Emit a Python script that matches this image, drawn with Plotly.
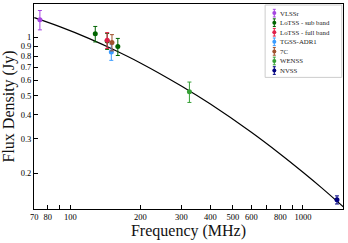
import plotly.graph_objects as go
import numpy as np

# Survey measurements
surveys = ["VLSSr", "LoTSS - sub band", "LoTSS - full band", "TGSS-ADR1", "7C", "WENSS", "NVSS"]
colors = ["#a545e0", "#006400", "#e0204a", "#3a9cff", "#a0522d", "#35a035", "#000080"]
freqs = [[74], [128, 144, 160], [144], [150], [151], [325], [1400]]
fluxes = [[1.23], [1.04, 0.955, 0.895], [0.965], [0.84], [0.94], [0.525], [0.146]]
errors = [[0.14], [0.095, 0.09, 0.09], [0.09], [0.08], [0.09], [0.063], [0.007]]

# Fitted spectral model curve
curve_freq = [70, 90, 120, 150, 200, 300, 400, 600, 800, 1000, 1200, 1490]
curve_flux = [1.259, 1.132, 0.986, 0.874, 0.737, 0.561, 0.453, 0.3245, 0.2504, 0.2023, 0.1687, 0.1345]

x_tickvals = [70, 80, 90, 100, 200, 300, 400, 500, 600, 700, 800, 900, 1000]
x_ticktext = ["70", "80", "", "100", "200", "300", "400", "500", "600", "", "800", "", "1000"]
y_tickvals = [0.2, 0.3, 0.4, 0.5, 0.6, 0.7, 0.8, 0.9, 1.0]
y_ticktext = ["0.2", "0.3", "0.4", "0.5", "0.6", "0.7", "0.8", "0.9", "1"]

FONT = "Liberation Serif, Times New Roman, serif"

fig = go.Figure()

fig.add_trace(go.Scatter(x=curve_freq, y=curve_flux, mode="lines",
                         line=dict(color="black", width=1.2, shape="spline"),
                         showlegend=False, hoverinfo="skip"))

for name, c, f, s, e in zip(surveys, colors, freqs, fluxes, errors):
    fig.add_trace(go.Scatter(
        x=f, y=s, mode="markers", name=name, showlegend=False,
        marker=dict(color=c, size=5, symbol="circle"),
        error_y=dict(type="data", array=e, visible=True, color=c, thickness=1, width=2),
    ))

# Manual compact legend on an auxiliary axis pair
n = len(surveys)
for i, (name, c) in enumerate(zip(surveys, colors)):
    fig.add_trace(go.Scatter(
        x=[1], y=[i], mode="markers", xaxis="x2", yaxis="y2", showlegend=False,
        marker=dict(color=c, size=4, symbol="circle"),
        error_y=dict(type="constant", value=0.4, visible=True, color=c, thickness=1, width=1.5),
        cliponaxis=False, hoverinfo="skip"))
    fig.add_annotation(x=1, y=i, xref="x2", yref="y2", text=name, showarrow=False,
                       xanchor="left", xshift=4, font=dict(family=FONT, size=6.8, color="#222"))

fig.add_shape(type="rect", xref="paper", yref="paper", x0=0.748, x1=0.996, y0=0.642, y1=0.995,
              line=dict(color="#cccccc", width=1), fillcolor="white", layer="below")

fig.update_layout(
    width=348, height=243,
    margin=dict(l=34, r=5, t=4, b=34),
    paper_bgcolor="white", plot_bgcolor="white",
    font=dict(family=FONT, color="black"),
    xaxis=dict(type="log", range=[np.log10(69.8), np.log10(1486)],
               tickvals=x_tickvals, ticktext=x_ticktext,
               ticks="inside", ticklen=4, tickwidth=1, tickcolor="black",
               showline=True, mirror=True, linecolor="black", linewidth=1,
               showgrid=False, zeroline=False,
               tickfont=dict(family=FONT, size=8.5, color="black"),
               title=dict(text="Frequency (MHz)", font=dict(family=FONT, size=16, color="#111"), standoff=3)),
    yaxis=dict(type="log", range=[np.log10(0.131), np.log10(1.48)],
               tickvals=y_tickvals, ticktext=y_ticktext,
               ticks="inside", ticklen=4, tickwidth=1, tickcolor="black",
               showline=True, mirror=True, linecolor="black", linewidth=1,
               showgrid=False, zeroline=False,
               tickfont=dict(family=FONT, size=8.5, color="black"),
               title=dict(text="Flux Density (Jy)", font=dict(family=FONT, size=16, color="#111"), standoff=2)),
    xaxis2=dict(domain=[0.76, 0.99], range=[0, 13], visible=False, fixedrange=True),
    yaxis2=dict(domain=[0.652, 0.979], range=[n - 0.5, -0.5], visible=False, fixedrange=True),
    showlegend=False,
)

fig.write_html("out.html", config={"displayModeBar": False},
               post_script="document.body.style.margin='0';document.body.style.overflow='hidden';")
